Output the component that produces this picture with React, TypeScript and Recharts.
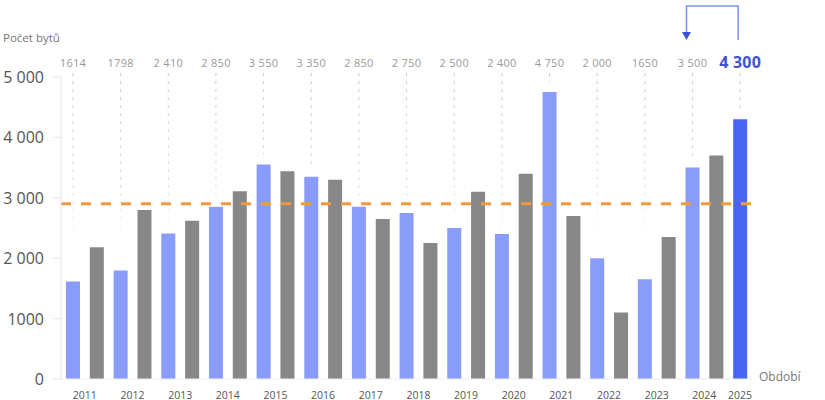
import React from "react";
import { ComposedChart, Bar, Cell, XAxis, YAxis, ReferenceLine, LabelList } from "recharts";

const years = ["2011","2012","2013","2014","2015","2016","2017","2018","2019","2020","2021","2022","2023","2024","2025"];
const forecastValues = [1614, 1798, 2410, 2850, 3550, 3350, 2850, 2750, 2500, 2400, 4750, 2000, 1650, 3500, 4300];
const forecastLabels = ["1614","1798","2 410","2 850","3 550","3 350","2 850","2 750","2 500","2 400","4 750","2 000","1650","3 500","4 300"];
const actualValues = [2180, 2800, 2620, 3110, 3440, 3300, 2650, 2250, 3100, 3400, 2700, 1100, 2350, 3700];
const averageValue = 2900;
const yTicks = [0, 1000, 2000, 3000, 4000, 5000];
const yTickLabels = ["0", "1000", "2 000", "3 000", "4 000", "5 000"];

type Row = { id: string; year: string; kind: "forecast" | "actual" | "latest"; value: number; label: string };

const rows: Row[] = [];
years.forEach((year, i) => {
  const isLast = i === years.length - 1;
  rows.push({ id: `${year}-f`, year, kind: isLast ? "latest" : "forecast", value: forecastValues[i], label: forecastLabels[i] });
  if (i < actualValues.length) {
    rows.push({ id: `${year}-a`, year, kind: "actual", value: actualValues[i], label: "" });
  }
});

const W = 825;
const H = 400;
const MARGIN = { top: 77, right: 73, bottom: 0, left: 0 };
const Y_AXIS_W = 61;
const X_AXIS_H = 21;
const PLOT_W = W - MARGIN.left - MARGIN.right - Y_AXIS_W;
const BAND = PLOT_W / rows.length;

const COLORS = { forecast: "#8a9cfa", actual: "#878787", latest: "#4a66f5" };
const FONT = "'Open Sans', 'DejaVu Sans', sans-serif";

const YTick = (props: any) => {
  const { x, y, payload } = props;
  const idx = yTicks.indexOf(payload.value);
  return (
    <g>
      <line x1={x} x2={x + 8} y1={y} y2={y} stroke="#e4e6ee" strokeWidth={1} />
      <text x={x - 9} y={y} textAnchor="end" dominantBaseline="central" fontFamily={FONT} fontSize={16} fill="#555">
        {yTickLabels[idx]}
      </text>
    </g>
  );
};

const XTick = (props: any) => {
  const { x, y, index } = props;
  const row = rows[index];
  if (!row || row.kind === "actual") return null;
  const next = rows[index + 1];
  const cx = next && next.year === row.year ? x + BAND / 2 : x;
  return (
    <text x={cx} y={y + 11.5} textAnchor="middle" fontFamily={FONT} fontSize={10.5} fill="#555">
      {row.year}
    </text>
  );
};

const TopLabel = (props: any) => {
  const { x, y, width, index } = props;
  const row = rows[index];
  if (!row || row.kind === "actual") return null;
  const cx = x + width / 2;
  const labelY = MARGIN.top - 15;
  const lineEnd = Math.max(labelY + 12, y - 10);
  const latest = row.kind === "latest";
  const ax = cx - 2 - 2 * BAND - 4;
  return (
    <g>
      <line x1={cx} x2={cx} y1={labelY + 11} y2={lineEnd} stroke="url(#fadeLine)" strokeWidth={1} strokeDasharray="3 5" />
      <text
        x={cx}
        y={labelY}
        textAnchor="middle"
        dominantBaseline="central"
        fontFamily={FONT}
        fontSize={latest ? 16 : 11}
        fontWeight={latest ? 700 : 400}
        fill={latest ? "#3d52d6" : "#9a9a9a"}
        letterSpacing={latest ? 0.2 : 0.3}
      >
        {row.label}
      </text>
      {latest ? (
        <g>
          <path d={`M ${cx - 2} ${labelY - 22} V ${6} H ${ax} V ${labelY - 30}`} fill="none" stroke="#7d90f0" strokeWidth={1.5} />
          <path d={`M ${ax - 4.5} ${labelY - 30} L ${ax + 4.5} ${labelY - 30} L ${ax} ${labelY - 22} Z`} fill="#3d52d6" />
        </g>
      ) : null}
    </g>
  );
};

export default function App() {
  return (
    <div style={{ position: "absolute", left: 0, top: 0, width: W, height: H, background: "#fff" }}>
      <ComposedChart width={W} height={H} data={rows} margin={MARGIN}>
        <defs>
          <linearGradient id="fadeLine" gradientUnits="userSpaceOnUse" x1="0" y1="70" x2="0" y2="250">
            <stop offset="0" stopColor="#c8c8c8" stopOpacity={1} />
            <stop offset="0.6" stopColor="#d0d0d0" stopOpacity={0.8} />
            <stop offset="1" stopColor="#d8d8d8" stopOpacity={0} />
          </linearGradient>
        </defs>
        <XAxis
          dataKey="id"
          height={X_AXIS_H}
          interval={0}
          axisLine={{ stroke: "#eceef3" }}
          tickLine={false}
          tick={<XTick />}
        />
        <YAxis
          width={Y_AXIS_W}
          domain={[0, 5000]}
          ticks={yTicks}
          interval={0}
          axisLine={{ stroke: "#e4e6ee" }}
          tickLine={false}
          tick={<YTick />}
        />
        <Bar dataKey="value" barSize={14} isAnimationActive={false}>
          {rows.map((r) => (
            <Cell key={r.id} fill={COLORS[r.kind]} />
          ))}
          <LabelList dataKey="value" content={<TopLabel />} />
        </Bar>
        <ReferenceLine y={averageValue} stroke="#f39b3b" strokeWidth={3} strokeDasharray="10 10" ifOverflow="extendDomain" />
        <text x={3} y={37} fontFamily={FONT} fontSize={11.5} fill="#777" dominantBaseline="central">Počet bytů</text>
        <text x={759} y={376} fontFamily={FONT} fontSize={12} fill="#777" dominantBaseline="central">Období</text>
      </ComposedChart>
    </div>
  );
}
